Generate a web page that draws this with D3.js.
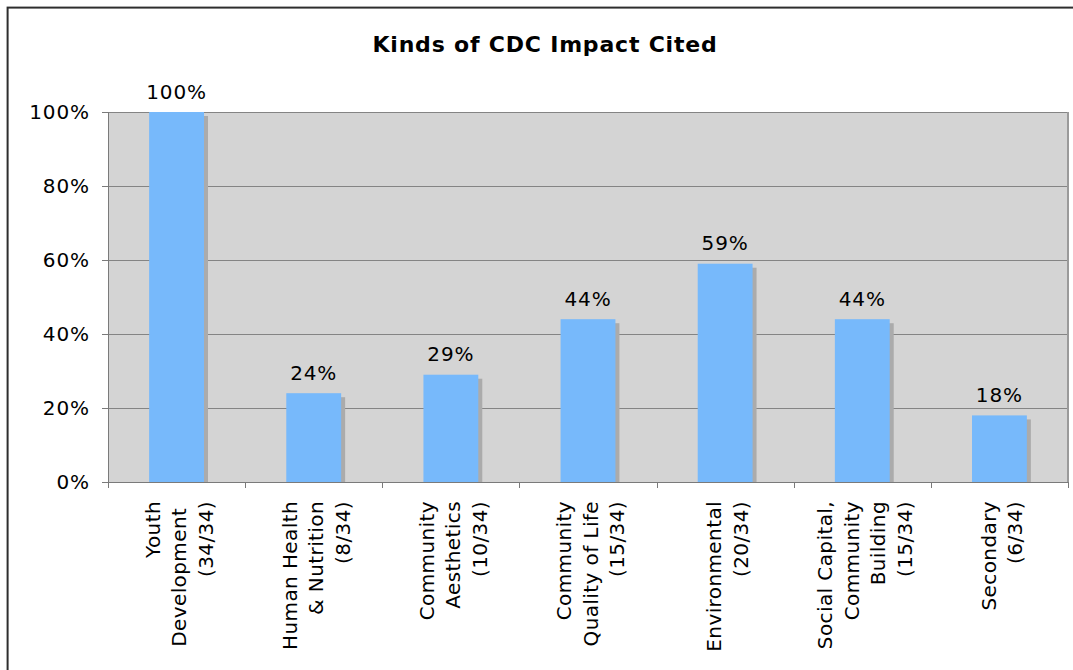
<!DOCTYPE html>
<html>
<head>
<meta charset="utf-8">
<script src="https://cdn.jsdelivr.net/npm/d3@7"></script>
<style>
  html, body { margin: 0; padding: 0; background: #fff; }
  svg { display: block; }
  text { font-family: "DejaVu Sans", Verdana, sans-serif; fill: #000; }
</style>
</head>
<body>
<svg id="chart" width="1073" height="670"></svg>
<script>
// Share of the 34 CDC responses citing each kind of impact
const categories = [
  ["Youth", "Development\u00a0", "(34/34)"],
  ["Human Health", "& Nutrition", "(8/34)"],
  ["Community", "Aesthetics", "(10/34)"],
  ["Community", "Quality of Life", "(15/34)"],
  ["Environmental", "(20/34)"],
  ["Social Capital,", "Community", "Building", "(15/34)"],
  ["Secondary", "(6/34)"]
];
const percentValues = [100, 24, 29, 44, 59, 44, 18];
const yTickValues = [0, 20, 40, 60, 80, 100];
const chartTitle = "Kinds of CDC Impact Cited";

const svg = d3.select("#chart");
const plot = { left: 108, right: 1068, top: 112, bottom: 482 };

// Outer frame of the chart
svg.append("rect")
  .attr("x", 7.6).attr("y", 7.6)
  .attr("width", 1120).attr("height", 720)
  .attr("fill", "none")
  .attr("stroke", "#2e2e2e")
  .attr("stroke-width", 2);

// Title
svg.append("text")
  .attr("x", 545).attr("y", 52)
  .attr("text-anchor", "middle")
  .attr("font-size", 22)
  .attr("font-weight", "bold")
  .attr("letter-spacing", 0.8)
  .text(chartTitle);

const x = d3.scaleBand()
  .domain(d3.range(categories.length))
  .range([plot.left, plot.right])
  .paddingInner(0.6)
  .paddingOuter(0.3);

const y = d3.scaleLinear()
  .domain([0, 100])
  .range([plot.bottom, plot.top]);

// Plot background
svg.append("rect")
  .attr("x", plot.left).attr("y", plot.top)
  .attr("width", plot.right - plot.left)
  .attr("height", plot.bottom - plot.top)
  .attr("fill", "#d4d4d4");

// Horizontal gridlines
svg.append("g")
  .selectAll("line")
  .data(yTickValues.filter(d => d > 0))
  .join("line")
  .attr("x1", plot.left).attr("x2", plot.right)
  .attr("y1", d => Math.round(y(d)) + 0.5)
  .attr("y2", d => Math.round(y(d)) + 0.5)
  .attr("stroke", "#848484")
  .attr("stroke-width", 1);

// Right edge of plot area
svg.append("line")
  .attr("x1", plot.right).attr("x2", plot.right)
  .attr("y1", plot.top).attr("y2", plot.bottom)
  .attr("stroke", "#9a9a9a")
  .attr("stroke-width", 2);

// Bar shadows
const shadowOffset = 4;
svg.append("g")
  .selectAll("rect")
  .data(percentValues)
  .join("rect")
  .attr("x", (d, i) => x(i) + shadowOffset)
  .attr("y", d => y(d) + shadowOffset)
  .attr("width", x.bandwidth())
  .attr("height", d => y(0) - y(d) - shadowOffset)
  .attr("fill", "#ababab");

// Bars
svg.append("g")
  .selectAll("rect")
  .data(percentValues)
  .join("rect")
  .attr("x", (d, i) => x(i))
  .attr("y", d => y(d))
  .attr("width", x.bandwidth())
  .attr("height", d => y(0) - y(d))
  .attr("fill", "#77b9fb");

// Value labels
svg.append("g")
  .selectAll("text")
  .data(percentValues)
  .join("text")
  .attr("x", (d, i) => x(i) + x.bandwidth() / 2)
  .attr("y", d => y(d) - 13.5)
  .attr("text-anchor", "middle")
  .attr("font-size", 20)
  .attr("letter-spacing", 0.9)
  .text(d => d + "%");

// Y axis
const yAxis = svg.append("g")
  .attr("transform", `translate(${plot.left},0)`)
  .call(d3.axisLeft(y)
    .tickValues(yTickValues)
    .tickFormat(d => d + "%")
    .tickSize(6)
    .tickPadding(12));
yAxis.selectAll("line, path").attr("stroke", "#7a7a7a");
yAxis.select(".domain").attr("d", `M0.5,${plot.top}V${plot.bottom}`);
yAxis.selectAll("text")
  .attr("font-family", "DejaVu Sans, Verdana, sans-serif")
  .attr("font-size", 20)
  .attr("letter-spacing", 0.9)
  .attr("fill", "#000");

// X axis line and category boundary ticks
const xAxis = svg.append("g");
xAxis.append("line")
  .attr("x1", plot.left).attr("x2", plot.right)
  .attr("y1", plot.bottom + 0.5).attr("y2", plot.bottom + 0.5)
  .attr("stroke", "#7a7a7a");
xAxis.selectAll("line.tick")
  .data(d3.range(categories.length + 1))
  .join("line")
  .attr("class", "tick")
  .attr("x1", i => Math.round(x.range()[0] + i * x.step()) + 0.5)
  .attr("x2", i => Math.round(x.range()[0] + i * x.step()) + 0.5)
  .attr("y1", plot.bottom)
  .attr("y2", plot.bottom + 6)
  .attr("stroke", "#7a7a7a");

// Rotated multi-line category labels
const lineGap = 26.5;
const labelTop = 501;
const labels = svg.append("g")
  .selectAll("g")
  .data(categories)
  .join("g")
  .attr("transform", (d, i) => `translate(${x(i) + x.bandwidth() / 2},${labelTop}) rotate(-90)`);
labels.each(function(lines) {
  const g = d3.select(this);
  const n = lines.length;
  lines.forEach((line, j) => {
    g.append("text")
      .attr("x", 0)
      .attr("y", 9.5 + (j - (n - 1) / 2) * lineGap)
      .attr("text-anchor", "end")
      .attr("font-size", 20)
      .attr("letter-spacing", 0.4)
      .text(line);
  });
});
</script>
</body>
</html>
